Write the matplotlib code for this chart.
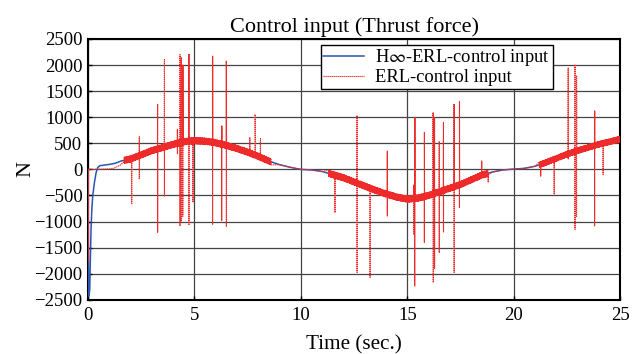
import numpy as np
import matplotlib
matplotlib.use("Agg")
import matplotlib.pyplot as plt

plt.rcParams['font.family'] = ['Liberation Serif', 'DejaVu Serif']
plt.rcParams['mathtext.fontset'] = 'stix'

# H-infinity ERL control input (smooth curve)
t_blue = [0, 0.02, 0.04, 0.08, 0.11, 0.14, 0.18, 0.22, 0.30, 0.38, 0.45, 0.55, 0.8, 1.0,
          1.3, 1.55, 2.0, 2.5, 3.0, 3.5, 4.0, 4.5, 5.0, 5.5, 6.0, 6.5, 7.0, 7.5, 8.0,
          8.5, 9.0, 9.5, 10.0, 10.5, 11.0, 11.5, 12.0, 12.5, 13.0, 13.5, 14.0, 14.5,
          15.0, 15.5, 16.0, 16.5, 17.0, 17.5, 18.0, 18.5, 19.0, 19.5, 20.0, 20.5,
          21.0, 21.5, 22.0, 22.5, 23.0, 23.5, 24.0, 24.5, 25.0]
u_blue = [0, -2000, -2430, -2300, -1700, -1150, -750, -510, -250, -60, 30, 70, 85, 95,
          120, 160, 200, 280, 360, 420, 480, 530, 550, 540, 510, 460, 400, 330, 250,
          160, 90, 40, 0, -10, -40, -100, -160, -240, -320, -400, -470, -530,
          -570, -550, -500, -430, -360, -290, -200, -110, -50, -10, 5, 20,
          60, 130, 210, 290, 360, 420, 480, 530, 580]

# ERL control input at the start (before chattering begins)
t_red_start = [0, 0.005, 0.012, 0.1, 0.5, 1.0, 1.2, 1.5, 1.7]
u_red_start = [0, -1780, 0, 0, 5, 10, 20, 80, 150]

# ERL control input: chattering band (half width) over the noisy intervals
band_t0 = [1.7, 11.3, 21.2]
band_t1 = [8.6, 18.8, 25.0]
band_halfwidth = [60, 60, 55]

# ERL control input: spikes (time, top, bottom)
spike_t = [2.05, 2.41, 3.27, 3.59, 4.2, 4.32, 4.38, 4.45, 4.74, 4.93, 5.85, 6.28, 6.5,
           7.6, 7.85, 8.1, 11.6, 12.64, 13.25, 14.06, 15.3, 15.35, 15.8, 16.22, 16.28,
           16.5, 16.7, 17.2, 17.45, 18.5, 18.8, 21.27, 21.9, 22.56, 22.88, 22.95,
           23.8, 24.2]
spike_top = [250, 626, 1245, 2107, 766, 2200, 2150, 2000, 2200, 550, 2170, 830, 2075,
             610, 1053, 590, -100, 1035, -300, 350, -300, 995, 708, 1090, 1000,
             540, 900, 1245, 1310, 160, -100, 40, 150, 1950, 2010, 1800,
             1117, 480]
spike_bot = [-670, -190, -1207, -510, 300, -1085, -1000, -900, -1060, -630, -1060, -990,
             -1100, 400, 700, 400, -830, -1975, -2070, -894, -1250, -2235, -1400, -2170,
             -1900, -1600, -1200, -1975, -730, -80, -250, -130, -480, 200, -1150, -900,
             -1085, -96]

fig = plt.figure(figsize=(6.38, 3.54), dpi=100)
ax = fig.add_axes([0.138, 0.153, 0.834, 0.737])

tb = np.array(t_blue, dtype=float)
ub = np.array(u_blue, dtype=float)

# build red chatter trace around the smooth curve
rt = list(t_red_start)
ru = list(u_red_start)
prev_end = band_t0[0]
for a, b, hw in zip(band_t0, band_t1, band_halfwidth):
    seg = tb[(tb > prev_end) & (tb < a)]
    rt.extend(seg); ru.extend(np.interp(seg, tb, ub))
    ts = np.arange(a, b, 0.011)
    sgn = np.where(np.arange(len(ts)) % 2 == 0, 1.0, -1.0)
    rt.extend(ts); ru.extend(np.interp(ts, tb, ub) + sgn * hw)
    prev_end = b
rt = np.array(rt); ru = np.array(ru)
# insert spikes
for st, top, bot in zip(spike_t, spike_top, spike_bot):
    i = np.searchsorted(rt, st)
    rt = np.insert(rt, i, [st, st + 0.001, st + 0.002])
    ru = np.insert(ru, i, [top, bot, top])

ax.plot(tb, ub, color='#2a55b0', lw=1.1, zorder=3, label=r'H$\infty$-ERL-control input')
ax.plot(rt, ru, color='#ee2a2a', lw=0.8, ls=(0, (1.2, 0.6)), zorder=4, label='ERL-control input')

ax.set_xlim(0, 25)
ax.set_ylim(-2500, 2500)
ax.set_xticks([0, 5, 10, 15, 20, 25])
ax.set_yticks(np.arange(-2500, 2501, 500))
ax.grid(True, color='#444444', lw=0.9)
ax.set_axisbelow(True)
ax.tick_params(direction='in', length=3, width=1, labelsize=13.5)
ax.tick_params(axis='x', pad=5)
ax.tick_params(axis='y', pad=4)
for s in ax.spines.values():
    s.set_linewidth(1.5)

ax.set_title('Control input (Thrust force)', fontsize=16, pad=5)
ax.set_xlabel('Time (sec.)', fontsize=15.2, labelpad=8)
ax.set_ylabel('N', fontsize=16, labelpad=-1)

leg = ax.legend(loc='upper right', bbox_to_anchor=(0.873, 0.978), fontsize=13.3,
                frameon=True, fancybox=False, edgecolor='black', borderaxespad=0,
                handlelength=2.2, borderpad=0.15, labelspacing=0.05, handletextpad=0.6)
leg.get_frame().set_linewidth(1.0)
leg.get_frame().set_alpha(1)

fig.savefig('out.png', dpi=100)
